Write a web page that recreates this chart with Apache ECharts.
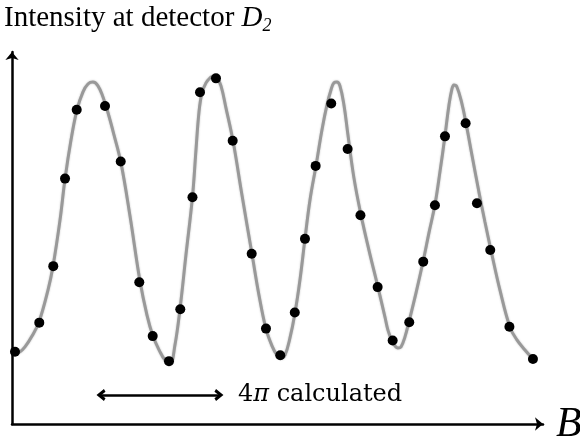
<!DOCTYPE html>
<html>
<head>
<meta charset="utf-8">
<script src="https://cdn.jsdelivr.net/npm/echarts@6/dist/echarts.min.js"></script>
<style>
html,body{margin:0;padding:0;background:#fff;}
#c{width:580px;height:439px;}
</style>
</head>
<body>
<div id="c"></div>
<script>
// Calculated intensity curve (B in arbitrary units 0..100, intensity 0..100)
const curveB = [0.37,1.50,2.43,3.75,5.06,6.74,7.68,8.99,9.93,11.05,12.17,13.30,14.23,15.17,16.10,17.04,17.98,19.10,20.41,22.10,23.97,25.28,26.40,27.72,28.65,29.59,30.52,31.46,32.58,33.80,34.46,35.02,35.58,36.33,37.08,37.64,38.39,39.14,40.07,41.39,43.07,44.94,46.25,47.57,48.69,49.63,50.37,51.12,52.06,53.00,53.93,54.87,55.81,56.93,58.05,58.99,59.74,60.30,60.86,61.42,62.17,62.92,64.04,65.36,66.85,68.54,69.85,70.41,71.16,71.72,72.28,72.85,73.60,74.34,75.66,76.97,78.09,79.21,80.15,81.09,81.84,82.40,82.77,83.33,84.27,85.02,86.14,87.45,88.58,89.70,91.39,93.26,94.57,96.07,97.57];
const curveI = [18.7,19.3,20.6,23.5,27.3,35.8,42.2,54.5,65.5,75.9,84.0,88.8,90.9,91.4,90.4,87.4,83.2,77.3,69.8,55.6,38.2,29.1,23.5,19.3,17.1,16.0,21.1,30.7,45.2,60.7,73.3,83.4,88.5,91.2,92.5,93.0,92.5,90.4,84.5,75.7,61.2,45.5,34.5,25.4,20.9,18.4,17.6,18.4,23.0,29.7,38.5,49.5,59.9,69.0,78.6,85.3,89.3,91.2,91.4,90.4,85.3,77.3,65.8,55.9,46.5,36.6,28.6,25.1,22.2,20.9,20.3,20.6,23.3,27.3,35.0,43.3,51.1,58.6,67.4,77.0,85.3,89.6,90.6,90.1,85.6,80.5,71.9,62.0,54.0,46.5,35.8,25.9,22.5,19.8,17.4];
// Measured points
const dotsB = [0.56,5.11,7.73,9.93,12.12,17.42,20.36,23.84,26.35,29.40,31.52,33.80,35.21,38.20,41.33,44.89,47.57,50.24,52.96,54.87,56.87,59.79,62.86,65.26,68.48,71.29,74.40,77.02,79.21,81.09,84.96,87.08,89.57,93.16,97.57];
const dotsI = [19.3,27.1,42.2,65.6,84.0,85.0,70.2,37.9,23.5,16.8,30.7,60.6,88.7,92.4,75.7,45.5,25.5,18.4,29.8,49.5,69.0,85.7,73.5,55.8,36.6,22.3,27.2,43.4,58.5,76.9,80.4,59.0,46.5,26.0,17.4];
// 4π span annotation
const spanB = [16.67, 38.76];
const spanI = 7.75;

const chart = echarts.init(document.getElementById('c'));
const serif = 'Liberation Serif';
const chevron = 'path://M5,0 L10,6.6 L7.8,8 L5,4.4 L2.2,8 L0,6.6 Z';
chart.setOption({
  animation: false,
  grid: {left: 12, right: 37, top: 52, bottom: 15},
  xAxis: {
    type: 'value', min: 0, max: 99.45,
    axisLine: {show: true, symbol: ['none', 'arrow'], symbolSize: [10, 8], lineStyle: {color: '#000', width: 2.5}},
    axisTick: {show: false}, axisLabel: {show: false}, splitLine: {show: false}
  },
  yAxis: {
    type: 'value', min: 0, max: 99.45,
    axisLine: {show: true, symbol: ['none', 'arrow'], symbolSize: [10, 8], lineStyle: {color: '#000', width: 2.5}},
    axisTick: {show: false}, axisLabel: {show: false}, splitLine: {show: false}
  },
  series: [
    {
      type: 'line', smooth: 0.4, showSymbol: false,
      data: curveB.map((b, i) => [b, curveI[i]]),
      lineStyle: {color: '#999', width: 3, shadowColor: 'rgba(0,0,0,0.25)', shadowBlur: 2},
      markLine: {
        silent: true,
        symbol: [chevron, chevron],
        symbolSize: [12, 9],
        lineStyle: {color: '#000', width: 2.5, type: 'solid'},
        itemStyle: {color: '#000'},
        label: {
          show: true, position: 'end', distance: 19,
          formatter: '{n|4}{p|π}{c| calculated}',
          rich: {
            n: {fontFamily: 'DejaVu Serif', fontSize: 24, color: '#000'},
            p: {fontFamily: 'DejaVu Serif', fontStyle: 'italic', fontSize: 24, color: '#000'},
            c: {fontFamily: 'DejaVu Serif', fontSize: 24, color: '#000'}
          }
        },
        data: [[{coord: [spanB[0], spanI]}, {coord: [spanB[1], spanI]}]]
      },
      z: 2
    },
    {
      type: 'scatter', symbol: 'circle', symbolSize: 10,
      data: dotsB.map((b, i) => [b, dotsI[i]]),
      itemStyle: {color: '#000', opacity: 1},
      z: 3
    }
  ],
  graphic: [
    {
      type: 'text', left: 4, top: 4,
      style: {
        text: '{a|Intensity at detector }{d|D}{s|2}',
        rich: {
          a: {fontFamily: serif, fontSize: 29, fill: '#000'},
          d: {fontFamily: serif, fontStyle: 'italic', fontSize: 29, fill: '#000'},
          s: {fontFamily: serif, fontStyle: 'italic', fontSize: 18, fill: '#000', lineHeight: 34, verticalAlign: 'bottom'}
        }
      }
    },
    {
      type: 'text', left: 556, top: 404,
      style: {text: 'B', fontFamily: serif, fontStyle: 'italic', fontSize: 42, fill: '#000'}
    }
  ]
});
</script>
</body>
</html>
